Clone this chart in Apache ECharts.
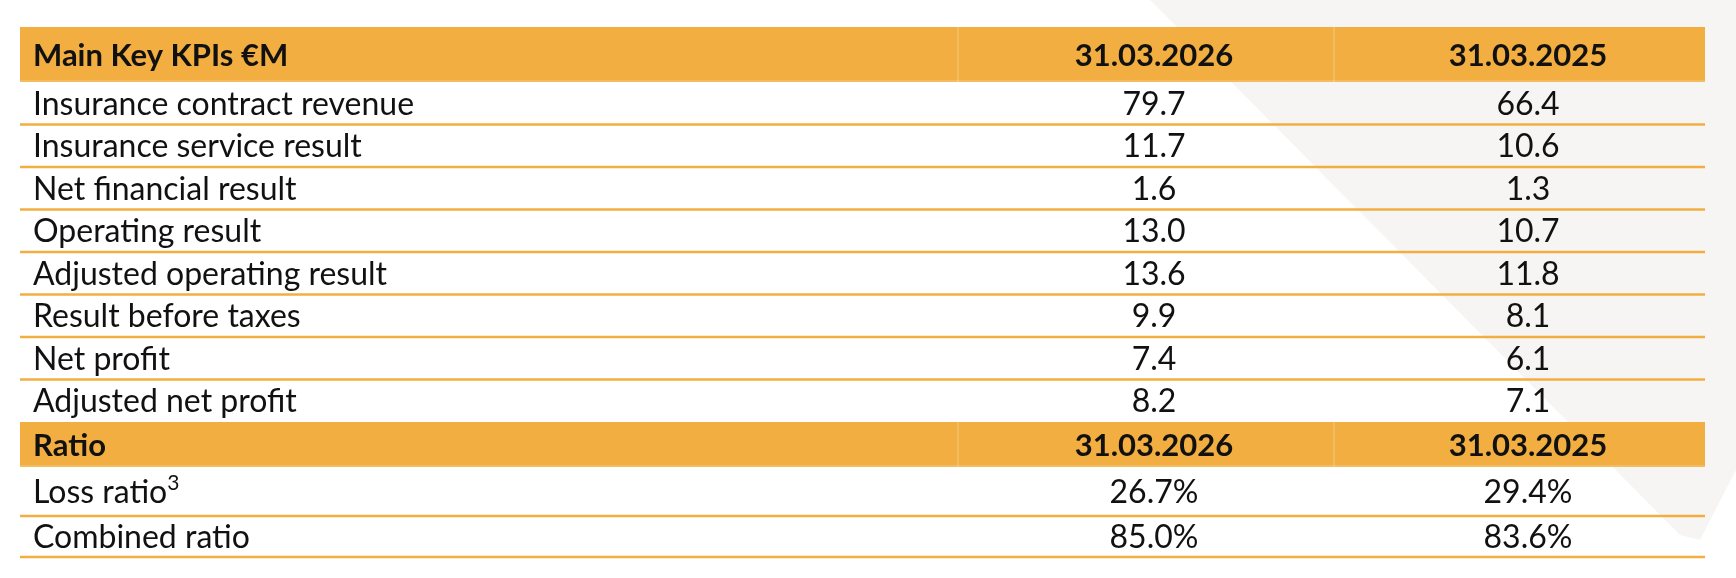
<!DOCTYPE html>
<html><head><meta charset="utf-8">
<script src="https://cdn.jsdelivr.net/npm/echarts@6/dist/echarts.min.js"></script>
<style>html,body{margin:0;padding:0;background:#fff}#c{width:1736px;height:578px}</style>
</head><body><div id="c"></div>
<script>
const headerTitle = 'Main Key KPIs €M';
const periods = ['31.03.2026', '31.03.2025'];
const categories = ['Insurance contract revenue','Insurance service result','Net financial result','Operating result','Adjusted operating result','Result before taxes','Net profit','Adjusted net profit'];
const values2026 = ['79.7','11.7','1.6','13.0','13.6','9.9','7.4','8.2'];
const values2025 = ['66.4','10.6','1.3','10.7','11.8','8.1','6.1','7.1'];
const ratioTitle = 'Ratio';
const ratioLabels = ['Loss ratio{s|3}','Combined ratio'];
const ratio2026 = ['26.7%','85.0%'];
const ratio2025 = ['29.4%','83.6%'];

// layout (style)
const ORANGE = '#F2AE40';
const W = 1685;
const colSep = [938, 1314];
const colCenter = [1134, 1508];
const textLeft = 13;

const rows = [];
rows.push({type:'header', cells:[headerTitle, periods[0], periods[1]], h:55});
categories.forEach((c,i)=>rows.push({type:'data', cells:[c, values2026[i], values2025[i]], h:42.5, line: i < categories.length-1}));
rows.push({type:'header', cells:[ratioTitle, periods[0], periods[1]], h:45});
ratioLabels.forEach((c,i)=>rows.push({type:'data', cells:[c, ratio2026[i], ratio2025[i]], h: i===0?49:41, line:true}));
let acc = 0;
const data = rows.map((r,i)=>{ const s = acc; acc += r.h; return [i, s, acc]; });
const total = acc;

const chart = echarts.init(document.getElementById('c'));
chart.setOption({
  animation:false,
  graphic:[{type:'polygon', z:-10, shape:{points:[[1150,0],[1736,0],[1736,470],[1700,540],[1680,535]]}, style:{fill:'#F6F5F3'}}],
  grid:{left:20, right:31, top:27, bottom:21},
  xAxis:{type:'value', min:0, max:W, show:false},
  yAxis:{type:'value', min:0, max:total, inverse:true, show:false},
  series:[{
    type:'custom',
    data:data,
    renderItem:function(params, api){
      const r = rows[api.value(0)];
      const y0 = api.coord([0, api.value(1)])[1];
      const y1 = api.coord([0, api.value(2)])[1];
      const xL = api.coord([0,0])[0], xR = api.coord([W,0])[0];
      const ym = (y0+y1)/2 + 1;
      const ch = [];
      const bold = r.type==='header';
      if (bold) {
        ch.push({type:'rect', shape:{x:xL, y:y0, width:xR-xL, height:y1-y0}, style:{fill:ORANGE}});
        colSep.forEach(s=>{ const x = api.coord([s,0])[0];
          ch.push({type:'line', shape:{x1:x,y1:y0,x2:x,y2:y1}, style:{stroke:'rgba(255,255,255,0.35)', lineWidth:1}}); });
        ch.push({type:'line', shape:{x1:xL,y1:y1-1,x2:xR,y2:y1-1}, style:{stroke:'rgba(255,255,255,0.35)', lineWidth:1}});
      }
      const font = {fontFamily:'Lato', fontSize: bold?31:32, fontWeight: bold?'bold':'normal', fill:'#111'};
      ch.push({type:'text', style:Object.assign({}, font, {text:r.cells[0], x:xL+textLeft, y:ym, align:'left', verticalAlign:'middle',
        rich:{s:{fontFamily:'Lato', fontSize:21, fill:'#111', padding:[0,0,18,0]}}})});
      for (let k=1;k<3;k++) {
        ch.push({type:'text', style:Object.assign({}, font, {text:r.cells[k], x:api.coord([colCenter[k-1],0])[0], y:ym, align:'center', verticalAlign:'middle'})});
      }
      if (r.line) ch.push({type:'line', shape:{x1:xL,y1:y1,x2:xR,y2:y1}, style:{stroke:ORANGE, lineWidth:2.5}});
      return {type:'group', children:ch};
    }
  }]
});
</script></body></html>
